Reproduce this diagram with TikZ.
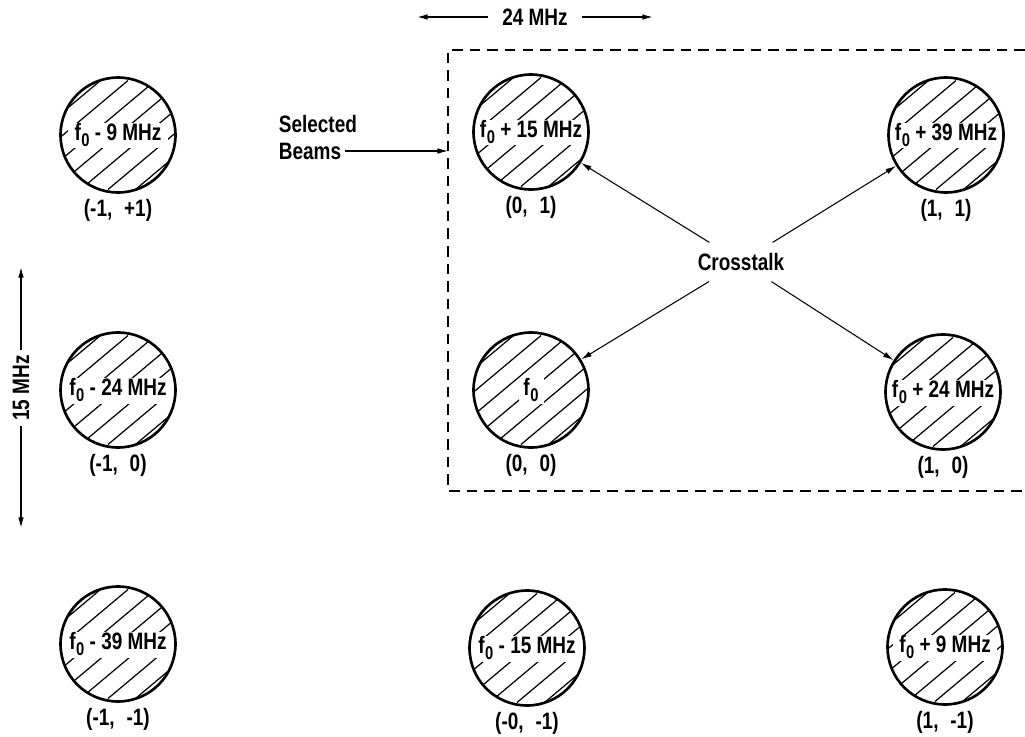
\documentclass[tikz,border=0pt]{standalone}
\usepackage{fontspec}
\newfontfamily\lettering{Liberation Sans}[FakeStretch=0.8]
\usetikzlibrary{positioning,arrows.meta,calc}
\newcommand{\fo}{f\kern0.3pt\raisebox{-0.45ex}{\fontsize{10.5pt}{10.5pt}\selectfont 0}}

\tikzset{
  >={Latex[length=6pt,width=3.2pt]},
  txt/.style={font=\lettering\bfseries\fontsize{13.5pt}{15pt}\selectfont, inner sep=2pt},
  beam/.style={circle, draw, line width=1.5pt, minimum size=2.3cm, inner sep=0pt, txt,
    path picture={
      \foreach \k in {-3,...,3}
        \draw[line width=0.7pt] ($(path picture bounding box.center)+(\k*0.55cm-1.3cm,-1.09cm)$) -- ++(2.6cm,2.18cm);
      \fill[white] ($(path picture bounding box.center)+(-#1/2,-0.27cm)$) rectangle ++(#1,0.52cm);
    }},
  tag/.style={txt, below=1pt of #1},
  talk/.style={->, line width=0.6pt},
  span/.style={->, line width=0.8pt},
  dashbox/.style={line width=0.9pt, dash pattern=on 6pt off 4pt}
}

\begin{document}
\begin{tikzpicture}[x=0.02cm, y=-0.02cm]
	\useasboundingbox (0,0) rectangle (1025,737);
	% beams, column -1
	\node [beam=2.0cm] (bm1p1) at (118,135) {\fo{} - 9 MHz};
	\node [beam=2.4cm] (bm10) at (118,390) {\fo{} - 24 MHz};
	\node [beam=2.4cm] (bm1m1) at (118,644) {\fo{} - 39 MHz};
	% beams, column 0
	\node [beam=2.4cm] (b0p1) at (531,132) {\fo{} + 15 MHz};
	\node [beam=0.5cm] (b00) at (531,390) {\fo};
	\node [beam=2.4cm] (b0m1) at (527,648) {\fo{} - 15 MHz};
	% beams, column 1
	\node [beam=2.4cm] (bp1p1) at (946,135) {\fo{} + 39 MHz};
	\node [beam=2.4cm] (bp10) at (943,392) {\fo{} + 24 MHz};
	\node [beam=2.1cm] (bp1m1) at (945,647) {\fo{} + 9 MHz};
	% indices
	\node [tag=bm1p1] (tm1p1) {(-1,\enspace +1)};
	\node [tag=bm10] (tm10) {(-1,\enspace 0)};
	\node [tag=bm1m1] (tm1m1) {(-1,\enspace -1)};
	\node [tag=b0p1] (t0p1) {(0,\enspace 1)};
	\node [tag=b00] (t00) {(0,\enspace 0)};
	\node [tag=b0m1] (t0m1) {(-0,\enspace -1)};
	\node [tag=bp1p1] (tp1p1) {(1,\enspace 1)};
	\node [tag=bp10] (tp10) {(1,\enspace 0)};
	\node [tag=bp1m1] (tp1m1) {(1,\enspace -1)};
	% selected beams
	\draw [dashbox] (1025,50) -| (448,491) -- (1025,491);
	\node [txt, anchor=west] (sel) at (275,124) {Selected};
	\node [txt, anchor=west] (beams) at (275,151) {Beams};
	\coordinate (selend) at (448,151);
	\draw [talk] (beams) -- (selend);
	% crosstalk
	\node [txt, inner sep=6pt] (xt) at (741,262) {Crosstalk};
	\draw [talk] (xt) -- (b0p1);
	\draw [talk] (xt) -- (bp1p1);
	\draw [talk] (xt) -- (b00);
	\draw [talk] (xt) -- (bp10);
	% spacings
	\node [txt, inner sep=8pt] (w24) at (535,17) {24 MHz};
	\coordinate (w24l) at (417,17);
	\coordinate (w24r) at (653,17);
	\draw [span] (w24) -- (w24l);
	\draw [span] (w24) -- (w24r);
	\node [txt, rotate=90, inner sep=3pt] (h15) at (21,388) {15 MHz};
	\coordinate (h15t) at (21,267);
	\coordinate (h15b) at (21,528);
	\draw [span] (h15) -- (h15t);
	\draw [span] (h15) -- (h15b);
\end{tikzpicture}
\end{document}
